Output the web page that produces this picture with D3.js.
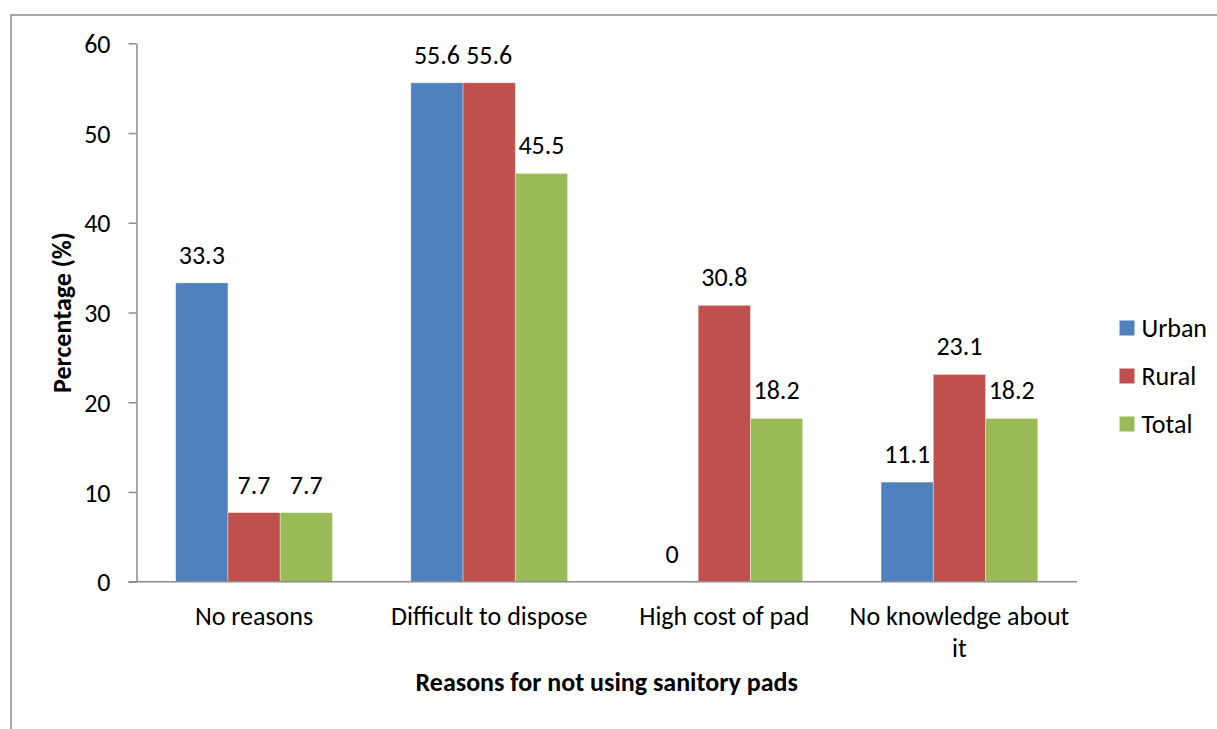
<!DOCTYPE html>
<html>
<head>
<meta charset="utf-8">
<script src="https://cdn.jsdelivr.net/npm/d3@7"></script>
<style>
  body { margin: 0; background: #fff; }
  svg text { font-family: Carlito, "Open Sans", sans-serif; fill: #000; }
</style>
</head>
<body>
<svg id="chart"></svg>
<script>
// data
var categories = ["No reasons", "Difficult to dispose", "High cost of pad", "No knowledge about it"]
var seriesNames = ["Urban", "Rural", "Total"]
var urban = [33.3, 55.6, 0, 11.1]
var rural = [7.7, 55.6, 30.8, 23.1]
var total = [7.7, 45.5, 18.2, 18.2]
var yTicks = [0, 10, 20, 30, 40, 50, 60]

var seriesValues = [urban, rural, total]
var colors = ["#4F81BD", "#C0504D", "#9BBB59"]

//drawing style
var fontSize = "26px"
var axisColor = "#8c8c8c"

//svg dimensions
var dimensions = {
    width: 1217,
    height: 729,
    plot: { left: 136.5, right: 1077, top: 43.3, bottom: 581.7 }
}

var svg = d3.select("#chart")
    .attr("width", dimensions.width)
    .attr("height", dimensions.height)

// chart frame (cut off at right and bottom)
svg.append("rect")
    .attr("x", 11).attr("y", 15)
    .attr("width", 1300).attr("height", 800)
    .attr("fill", "none")
    .attr("stroke", axisColor)
    .attr("stroke-width", 1.5)

//scales
var x0 = d3.scaleBand()
    .domain(categories)
    .range([dimensions.plot.left, dimensions.plot.right])
    .paddingInner(1 / 3)
    .paddingOuter(1 / 6)

var x1 = d3.scaleBand()
    .domain(seriesNames)
    .range([0, x0.bandwidth()])

var y = d3.scaleLinear()
    .domain([0, 60])
    .range([dimensions.plot.bottom, dimensions.plot.top])

var rows = []
categories.forEach((c, i) => {
    seriesNames.forEach((s, j) => {
        rows.push({ category: c, series: s, value: seriesValues[j][i], color: colors[j] })
    })
})

//bars
svg.append("g")
    .selectAll("rect")
    .data(rows)
    .enter()
    .append("rect")
    .attr("x", d => x0(d.category) + x1(d.series))
    .attr("y", d => y(d.value))
    .attr("width", x1.bandwidth())
    .attr("height", d => y(0) - y(d.value))
    .attr("fill", d => d.color)
    .attr("stroke", "rgba(255,255,255,0.45)")
    .attr("stroke-width", 0.8)

//value labels
svg.append("g")
    .selectAll("text")
    .data(rows)
    .enter()
    .append("text")
    .attr("x", d => x0(d.category) + x1(d.series) + x1.bandwidth() / 2)
    .attr("y", d => y(d.value) - 19)
    .attr("text-anchor", "middle")
    .style("font-size", fontSize)
    .text(d => d.value)

//y axis
var yAxis = svg.append("g")
    .attr("transform", `translate(${dimensions.plot.left},0)`)
    .call(d3.axisLeft(y).tickValues(yTicks).tickSize(8).tickSizeOuter(0).tickPadding(18))
yAxis.select(".domain").attr("stroke", axisColor).attr("stroke-width", 1.5)
yAxis.selectAll(".tick line").attr("stroke", axisColor).attr("stroke-width", 1.5)
yAxis.selectAll(".tick text")
    .style("font-size", fontSize)
    .style("font-family", 'Carlito, "Open Sans", sans-serif')
    .attr("dy", "0.35em")

//x axis line
svg.append("line")
    .attr("x1", dimensions.plot.left - 8)
    .attr("x2", dimensions.plot.right)
    .attr("y1", y(0)).attr("y2", y(0))
    .attr("stroke", axisColor)
    .attr("stroke-width", 1.5)

//category labels, wrapped to the band step
var step = x0.step()
var catLabels = svg.append("g")
    .selectAll("text")
    .data(categories)
    .enter()
    .append("text")
    .attr("x", d => x0(d) + x0.bandwidth() / 2)
    .attr("y", 625)
    .attr("text-anchor", "middle")
    .style("font-size", fontSize)

catLabels.each(function(d) {
    var el = d3.select(this)
    var words = d.split(" ")
    var line = []
    var tspan = el.append("tspan").attr("x", el.attr("x")).attr("dy", 0)
    words.forEach(w => {
        line.push(w)
        tspan.text(line.join(" "))
        if (tspan.node().getComputedTextLength() > step - 4 && line.length > 1) {
            line.pop()
            tspan.text(line.join(" "))
            line = [w]
            tspan = el.append("tspan").attr("x", el.attr("x")).attr("dy", 32).text(w)
        }
    })
})

//axis titles
svg.append("text")
    .attr("transform", `translate(71,${(dimensions.plot.top + dimensions.plot.bottom) / 2}) rotate(-90)`)
    .attr("text-anchor", "middle")
    .style("font-size", fontSize)
    .style("font-weight", "bold")
    .text("Percentage (%)")

svg.append("text")
    .attr("x", (dimensions.plot.left + dimensions.plot.right) / 2)
    .attr("y", 691)
    .attr("text-anchor", "middle")
    .style("font-size", fontSize)
    .style("font-weight", "bold")
    .text("Reasons for not using sanitory pads")

//legend
var legend = svg.append("g")
    .selectAll("g")
    .data(seriesNames)
    .enter()
    .append("g")
    .attr("transform", (d, i) => `translate(1119.5,${328 + i * 48})`)

legend.append("rect")
    .attr("x", 0).attr("y", -7.5)
    .attr("width", 15).attr("height", 15)
    .attr("fill", (d, i) => colors[i])

legend.append("text")
    .attr("x", 22)
    .attr("dy", "0.35em")
    .style("font-size", fontSize)
    .text(d => d)
</script>
</body>
</html>
